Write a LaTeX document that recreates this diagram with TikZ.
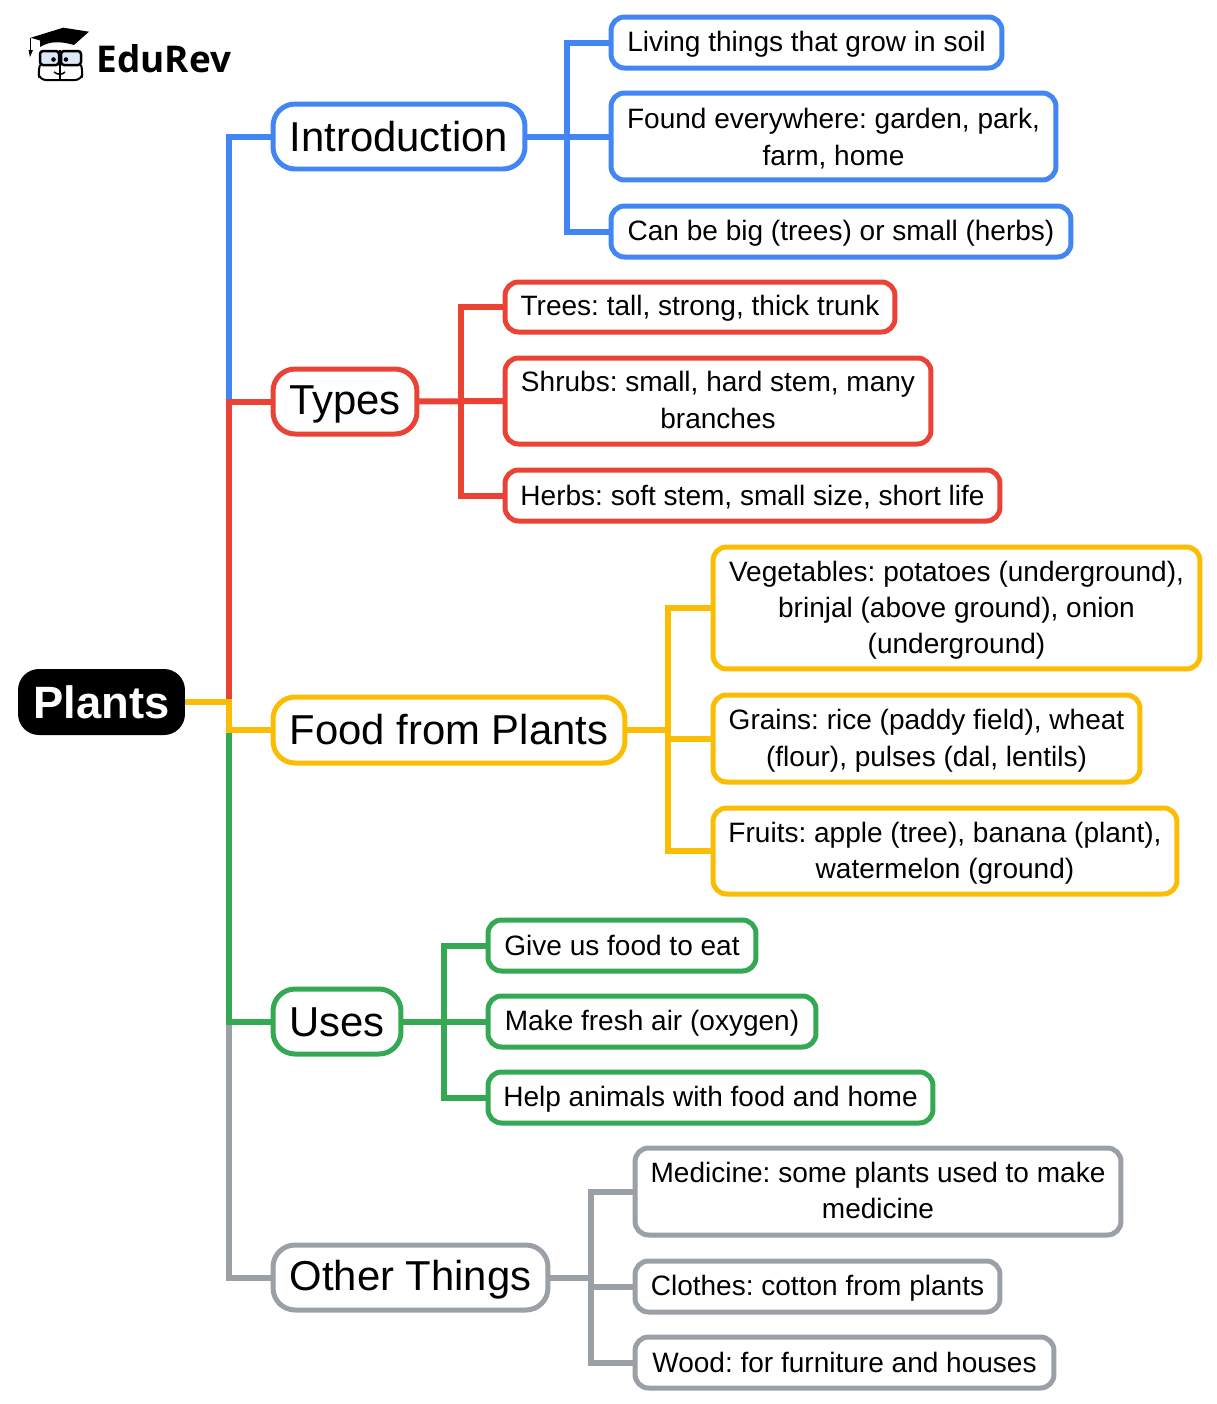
\documentclass[tikz,border=0pt]{standalone}
\usepackage{fontspec}
\setmainfont{Liberation Sans}
\newfontfamily\logofont{Open Sans}
\usepackage{xcolor}
\definecolor{blueline}{HTML}{4285F4}
\definecolor{redline}{HTML}{EA4335}
\definecolor{yellowline}{HTML}{FBBC04}
\definecolor{greenline}{HTML}{34A853}
\definecolor{grayline}{HTML}{9AA0A6}
\definecolor{lensblue}{HTML}{DCE8F8}
\newcommand{\leafstrut}{\rule[-1.3pt]{0pt}{14.3pt}}
\newcommand{\topicstrut}{\rule[-3.4pt]{0pt}{23.4pt}}
\newcommand{\tallstrut}{\rule{0pt}{14pt}}
\tikzset{
  topic/.style={draw,rounded corners=0.44cm,line width=0.1cm,inner sep=0pt,outer sep=0pt,fill=white,font=\frenchspacing\fontsize{23.8}{30}\selectfont,execute at begin node=\topicstrut,execute at end node=\topicstrut},
  leaf/.style={draw,rounded corners=0.27cm,line width=0.1cm,inner sep=0pt,outer sep=0pt,fill=white,align=center,font=\frenchspacing\fontsize{15.95}{20.7}\selectfont,execute at begin node=\leafstrut,execute at end node=\leafstrut},
  link/.style={line width=0.12cm},
}
\begin{document}
\begin{tikzpicture}[x=0.02cm,y=-0.02cm]
\useasboundingbox (0,0) rectangle (1217,1404);
% trunk points
\coordinate (trunkblue) at (229,401);
\coordinate (trunkred) at (229,702);
\coordinate (trunkyellow) at (229,730);
\coordinate (trunkgreen) at (229,1022);
% forks
\coordinate (forkintro) at (567,136.5);
\coordinate (forktypes) at (461,401.5);
\coordinate (forkfood) at (668,730);
\coordinate (forkuses) at (444,1021.5);
\coordinate (forkother) at (591,1277.5);
% main nodes
\draw (101.5,702) node[fill=black,rounded corners=0.42cm,minimum width=3.34cm,minimum height=1.32cm,inner sep=0pt,outer sep=0pt,text=white,font=\fontsize{25.8}{30}\selectfont\bfseries](plants) {Plants};
\draw (399,136.5) node[topic,draw=blueline,minimum width=5.04cm,minimum height=1.3cm](intro) {Introduction};
\draw (345,401.5) node[topic,draw=redline,minimum width=2.88cm,minimum height=1.3cm](types) {Types};
\draw (449,730) node[topic,draw=yellowline,minimum width=7.04cm,minimum height=1.32cm](food) {Food from Plants};
\draw (337,1021.5) node[topic,draw=greenline,minimum width=2.56cm,minimum height=1.3cm](uses) {Uses};
\draw (410.5,1277.5) node[topic,draw=grayline,minimum width=5.5cm,minimum height=1.3cm](other) {Other Things};
% leaves
\draw (806.5,42.5) node[leaf,draw=blueline,minimum width=7.82cm,minimum height=1.02cm](introa) {Living things that grow in soil};
\draw (833.5,136.5) node[leaf,draw=blueline,minimum width=8.9cm,minimum height=1.74cm](introb) {\tallstrut Found everywhere: garden, park,\\farm, home};
\draw (841,231.5) node[leaf,draw=blueline,minimum width=9.2cm,minimum height=1.02cm](introc) {Can be big (trees) or small (herbs)};
\draw (700,307) node[leaf,draw=redline,minimum width=7.8cm,minimum height=1.0cm](typesa) {Trees: tall, strong, thick trunk};
\draw (718,401) node[leaf,draw=redline,minimum width=8.52cm,minimum height=1.72cm](typesb) {Shrubs: small, hard stem, many\\branches};
\draw (752.5,495.5) node[leaf,draw=redline,minimum width=9.9cm,minimum height=1.02cm](typesc) {Herbs: soft stem, small size, short life};
\draw (956.5,608) node[leaf,draw=yellowline,minimum width=9.74cm,minimum height=2.44cm](fooda) {\tallstrut Vegetables: potatoes (underground),\\brinjal (above ground), onion\\(underground)};
\draw (926.5,738.5) node[leaf,draw=yellowline,minimum width=8.54cm,minimum height=1.74cm](foodb) {\tallstrut Grains: rice (paddy field), wheat\\(flour), pulses (dal, lentils)};
\draw (945,851) node[leaf,draw=yellowline,minimum width=9.28cm,minimum height=1.72cm](foodc) {\tallstrut Fruits: apple (tree), banana (plant),\\watermelon (ground)};
\draw (622,945.5) node[leaf,draw=greenline,minimum width=5.36cm,minimum height=1.02cm](usesa) {Give us food to eat};
\draw (652,1021.5) node[leaf,draw=greenline,minimum width=6.56cm,minimum height=1.02cm](usesb) {Make fresh air (oxygen)};
\draw (710.5,1097.5) node[leaf,draw=greenline,minimum width=8.9cm,minimum height=1.02cm](usesc) {Help animals with food and home};
\draw (878,1191.5) node[leaf,draw=grayline,minimum width=9.72cm,minimum height=1.74cm](othera) {Medicine: some plants used to make\\medicine};
\draw (817.5,1286.5) node[leaf,draw=grayline,minimum width=7.3cm,minimum height=1.02cm](otherb) {Clothes: cotton from plants};
\draw (844.5,1362.5) node[leaf,draw=grayline,minimum width=8.38cm,minimum height=1.02cm](otherc) {Wood: for furniture and houses};
% trunk
\draw[link,grayline] (other.west) -| (trunkgreen);
\draw[link,greenline] (uses.west) -| (trunkyellow);
\draw[link,blueline] (intro.west) -| (trunkblue);
\draw[link,redline] (types.west) -| (trunkred);
\draw[link,yellowline] (plants.east) -- (trunkred) -- (trunkyellow) -- (food.west);
% branches
\draw[link,blueline] (intro.east) -- (introb.west);
\draw[link,blueline] (introa.west) -| (forkintro) |- (introc.west);
\draw[link,redline] (types.east) -- (typesb.west);
\draw[link,redline] (typesa.west) -| (forktypes) |- (typesc.west);
\draw[link,yellowline] (food.east) -- (forkfood);
\draw[link,yellowline] (fooda.west) -| (forkfood) |- (foodc.west);
\draw[link,yellowline] (forkfood |- foodb.west) -- (foodb.west);
\draw[link,greenline] (uses.east) -- (usesb.west);
\draw[link,greenline] (usesa.west) -| (forkuses) |- (usesc.west);
\draw[link,grayline] (other.east) -- (forkother);
\draw[link,grayline] (othera.west) -| (forkother) |- (otherc.west);
\draw[link,grayline] (forkother |- otherb.west) -- (otherb.west);
% logo
\draw (164,59) node[inner sep=0pt,font=\logofont\fontsize{21}{26}\selectfont\bfseries](edurev) {EduRev};
\filldraw[fill=lensblue,draw=black,line width=0.05cm,rounded corners=0.06cm] (40,51) rectangle (59,65);
\filldraw[fill=lensblue,draw=black,line width=0.05cm,rounded corners=0.06cm] (61,51) rectangle (81,65);
\draw[black,line width=0.04cm,rounded corners=0.12cm] (40,65) -- (38,72) -- (40,80) -- (59,80) (81,65) -- (83,72) -- (81,80) -- (61,80);
\draw[black,line width=0.03cm] (60,50) -- (60,81);
\draw[black,line width=0.03cm] (54,72) .. controls (58,75) and (62,75) .. (65,72);
\fill[black] (53.5,59.5) circle (2.3) (66,59.5) circle (2.3);
\fill[black] (30.7,37.7) -- (63.3,27.7) -- (89,31.7) -- (74,45) .. controls (60,41) and (50,41) .. (40,47) -- (40,40.5) -- cycle;
\draw[black,line width=0.03cm] (30.7,37.7) -- (30.7,50);
\fill[black] (28.5,50) -- (33,50) -- (30,57) -- cycle;
\end{tikzpicture}
\end{document}
